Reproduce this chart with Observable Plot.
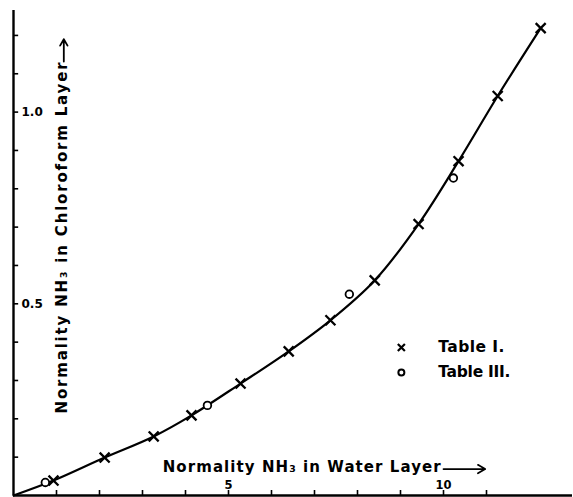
<!DOCTYPE html>
<html>
<head>
<meta charset="utf-8">
<script src="https://cdn.jsdelivr.net/npm/d3@7"></script>
<script src="https://cdn.jsdelivr.net/npm/@observablehq/plot@0.6"></script>
<style>
  html, body { margin: 0; padding: 0; background: #fff; }
  svg { display: block; }
</style>
</head>
<body>
<div id="chart"></div>
<script>
// Table I (x marks): water-layer normality vs chloroform-layer normality
const tableI_water = [0.93, 2.12, 3.26, 4.14, 5.28, 6.40, 7.37, 8.40, 9.42, 10.35, 11.26, 12.26];
const tableI_chloro = [0.039, 0.099, 0.154, 0.209, 0.292, 0.376, 0.457, 0.561, 0.708, 0.872, 1.042, 1.219];
// Table III (open circles)
const tableIII_water = [0.74, 4.51, 7.81, 10.23];
const tableIII_chloro = [0.034, 0.235, 0.525, 0.828];
// Axis ticks and labels
const xTicks = [1, 2, 3, 4, 5, 6, 7, 8, 9, 10, 11];
const xTickLabels = [5, 10];
const yTicks = [0.1, 0.2, 0.3, 0.4, 0.5, 0.6, 0.7, 0.8, 0.9, 1.0, 1.1, 1.2];
const yTickLabels = [0.5, 1.0];
const legendLabels = ["Table I.", "Table III."];
const xTitle = "Normality NH\u2083 in Water Layer";
const yTitle = "Normality NH\u2083 in Chloroform Layer";

const tableI = tableI_water.map((x, i) => ({x, y: tableI_chloro[i]}));
const tableIII = tableIII_water.map((x, i) => ({x, y: tableIII_chloro[i]}));
const curve = [{x: 0, y: 0}, ...tableI];

const font = "DejaVu Sans";

const chart = Plot.plot({
  width: 573,
  height: 497,
  marginLeft: 13,
  marginRight: 1,
  marginTop: 10,
  marginBottom: 2,
  style: {fontFamily: font, background: "#fff", color: "#000"},
  x: {domain: [0, 13], axis: null},
  y: {domain: [0, 1.265], axis: null},
  marks: [
    // axes lines
    Plot.ruleY([0], {stroke: "#000", strokeWidth: 2.4}),
    Plot.ruleX([0], {stroke: "#000", strokeWidth: 2.4}),
    // inward ticks
    Plot.ruleX(xTicks, {x: d => d, y1: 0, y2: 0.013, stroke: "#000", strokeWidth: 1.6}),
    Plot.ruleY(yTicks, {y: d => d, x1: 0, x2: 0.12, stroke: "#000", strokeWidth: 1.6}),
    // tick labels
    Plot.text(xTickLabels, {x: d => d, y: 0, dy: -10, text: d => String(d), fontSize: 11.5, fontWeight: "bold", fill: "#000"}),
    Plot.text(yTickLabels, {x: 0, y: d => d, dx: 8, textAnchor: "start", text: d => d.toFixed(1), fontSize: 12, fontWeight: "bold", fill: "#000"}),
    // curve
    Plot.line(curve, {x: "x", y: "y", curve: "catmull-rom", stroke: "#000", strokeWidth: 2.2}),
    // data markers
    Plot.dot(tableI, {x: "x", y: "y", symbol: "times", r: 4.6, stroke: "#000", strokeWidth: 2.3}),
    Plot.dot(tableIII, {x: "x", y: "y", symbol: "circle", r: 3.8, stroke: "#000", fill: "#fff", strokeWidth: 1.8}),
    // axis titles
    Plot.text([xTitle], {x: 3.47, y: 0.075, text: d => d, textAnchor: "start", fontSize: 15, fontWeight: "bold", fill: "#000"}),
    Plot.arrow([0], {x1: 10.0, x2: 10.97, y1: 0.069, y2: 0.069, stroke: "#000", strokeWidth: 1.8, headLength: 7}),
    Plot.text([yTitle], {x: 1.14, y: 0.214, text: d => d, textAnchor: "start", rotate: -90, fontSize: 15, fontWeight: "bold", fill: "#000"}),
    Plot.arrow([0], {x1: 1.17, x2: 1.17, y1: 1.132, y2: 1.19, stroke: "#000", strokeWidth: 1.8, headLength: 7}),
    // legend
    Plot.dot([legendLabels[0]], {x: 9.02, y: 0.386, symbol: "times", r: 3.3, stroke: "#000", strokeWidth: 2.2}),
    Plot.dot([legendLabels[1]], {x: 9.02, y: 0.321, symbol: "circle", r: 3, stroke: "#000", fill: "#fff", strokeWidth: 2}),
    Plot.text(legendLabels, {x: 9.88, y: (d, i) => i === 0 ? 0.386 : 0.321, text: d => d, textAnchor: "start", fontSize: 15.5, fontWeight: "bold", fill: "#000"})
  ]
});

document.getElementById("chart").appendChild(chart);

// stretch the hand-lettered titles to the reference lengths
d3.select(chart).selectAll("text").each(function() {
  const t = this.textContent;
  if (t === xTitle) this.setAttribute("textLength", 278);
  if (t === yTitle) this.setAttribute("textLength", 351);
  if (t === legendLabels[0]) this.setAttribute("textLength", 66);
  if (t === legendLabels[1]) this.setAttribute("textLength", 72);
});
</script>
</body>
</html>
